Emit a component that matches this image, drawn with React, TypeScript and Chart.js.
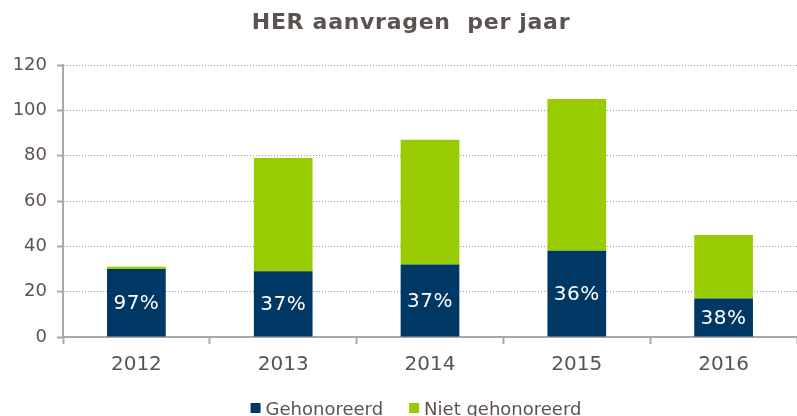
import React, { useEffect, useRef } from "react";
import { Chart, registerables } from "chart.js";

Chart.register(...registerables);

const title = "HER aanvragen  per jaar";
const years = ["2012", "2013", "2014", "2015", "2016"];
const gehonoreerd = [30, 29, 32, 38, 17];
const nietGehonoreerd = [1, 50, 55, 67, 28];
const percentLabels = ["97%", "37%", "37%", "36%", "38%"];
const seriesNames = ["Gehonoreerd", "Niet gehonoreerd"];
const seriesColors = ["#003865", "#99CC00"];
const yMax = 120;
const yStep = 20;

const FONT = "'DejaVu Sans', Verdana, sans-serif";
const TEXT = "#5C5250";
const AXIS = "#A8A8A8";

const labelPlugin = {
  id: "pctLabels",
  afterDatasetsDraw(chart: any) {
    const ctx = chart.ctx;
    const meta = chart.getDatasetMeta(0);
    ctx.save();
    ctx.fillStyle = "#FFFFFF";
    ctx.font = `20px ${FONT}`;
    ctx.textAlign = "center";
    ctx.textBaseline = "middle";
    try { (ctx as any).letterSpacing = "0.5px"; } catch (e) {}
    meta.data.forEach((bar: any, i: number) => {
      const p = bar.getProps(["x", "y", "base"], true);
      ctx.fillText(percentLabels[i], p.x, (p.y + p.base) / 2 + 1);
    });
    ctx.restore();
  },
};

const titleLegendPlugin = {
  id: "titleLegend",
  afterDraw(chart: any) {
    const ctx = chart.ctx;
    ctx.save();
    ctx.fillStyle = TEXT;
    ctx.font = `bold 22px ${FONT}`;
    ctx.textAlign = "center";
    ctx.textBaseline = "middle";
    try { (ctx as any).letterSpacing = "0.7px"; } catch (e) {}
    ctx.fillText(title, 411, 23);
    try { (ctx as any).letterSpacing = "0px"; } catch (e) {}

    ctx.font = `18px ${FONT}`;
    ctx.textAlign = "left";
    ctx.textBaseline = "alphabetic";
    const box = 10;
    const gapText = 5;
    const gapItem = 26;
    const widths = seriesNames.map((n) => ctx.measureText(n).width);
    const total =
      widths.reduce((a: number, b: number) => a + b, 0) +
      seriesNames.length * (box + gapText) +
      gapItem * (seriesNames.length - 1);
    let x = 416 - total / 2;
    seriesNames.forEach((n, i) => {
      ctx.fillStyle = seriesColors[i];
      ctx.fillRect(x, 403, box, box);
      x += box + gapText;
      ctx.fillStyle = TEXT;
      ctx.fillText(n, x, 415);
      x += widths[i] + gapItem;
    });
    ctx.restore();
  },
};

export default function App() {
  const ref = useRef<HTMLCanvasElement>(null);
  useEffect(() => {
    if (!ref.current) return;
    const chart = new Chart(ref.current, {
      type: "bar",
      data: {
        labels: years,
        datasets: [
          {
            label: seriesNames[0],
            data: gehonoreerd,
            backgroundColor: seriesColors[0],
            barPercentage: 0.4,
            categoryPercentage: 1,
          },
          {
            label: seriesNames[1],
            data: nietGehonoreerd,
            backgroundColor: seriesColors[1],
            barPercentage: 0.4,
            categoryPercentage: 1,
          },
        ],
      },
      options: {
        responsive: false,
        animation: false,
        layout: { padding: { top: 65, left: 0, right: 0, bottom: 0 } },
        plugins: {
          legend: { display: false },
          title: { display: false },
          tooltip: { enabled: false },
        },
        scales: {
          x: {
            stacked: true,
            grid: {
              offset: true,
              drawOnChartArea: false,
              drawTicks: true,
              tickLength: 7,
              tickColor: AXIS,
              tickWidth: 2,
            },
            border: { display: true, color: AXIS, width: 2 },
            ticks: {
              color: TEXT,
              font: { family: FONT, size: 20 },
              padding: 9,
            },
            afterFit(scale: any) {
              scale.height = 416 - 337;
            },
          },
          y: {
            stacked: true,
            min: 0,
            max: yMax,
            grid: {
              color: "#9A9A9A",
              lineWidth: 1,
              drawTicks: true,
              tickLength: 6,
              tickColor: AXIS,
              tickWidth: 2,
              tickBorderDash: [],
            },
            border: { display: true, color: AXIS, width: 2, dash: [1, 2] },
            ticks: {
              stepSize: yStep,
              color: TEXT,
              font: { family: FONT, size: 18 },
              padding: 10,
            },
            afterFit(scale: any) {
              scale.width = 63;
            },
          },
        },
      },
      plugins: [labelPlugin, titleLegendPlugin],
    });
    return () => chart.destroy();
  }, []);
  return (
    <div style={{ position: "fixed", left: 0, top: 0, width: 797, height: 416, background: "#fff" }}>
      <canvas ref={ref} width={797} height={416} />
    </div>
  );
}
